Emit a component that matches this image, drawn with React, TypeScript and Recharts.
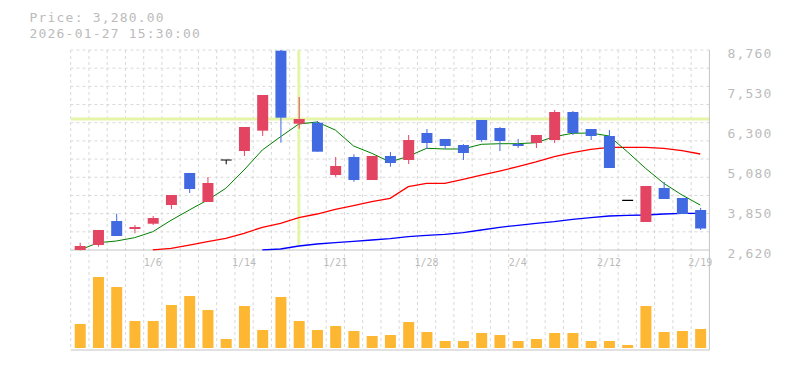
import React from 'react';
import {
  ComposedChart, Bar, Line, XAxis, YAxis, CartesianGrid, ReferenceLine,
} from 'recharts';

// ---- data ----
const dates = ['12/26','12/29','12/30','1/5','1/6','1/7','1/8','1/9','1/13','1/14','1/15','1/16','1/19','1/20','1/21','1/22','1/23','1/26','1/27','1/28','1/29','1/30','2/2','2/3','2/4','2/5','2/6','2/9','2/10','2/12','2/13','2/16','2/17','2/18','2/19'];
const opens  = [2620,2773,3510,3265,3427,4001,4984,4094,5383,5659,6283,8739,6497,6528,4922,5475,4769,5506,5383,6212,6028,5843,6611,6365,5874,5905,5997,6857,6335,6120,4146,3480,4523,4216,3848];
const highs  = [2844,3234,3734,3388,3664,4308,4984,4861,5383,6396,7378,8760,7317,6580,5475,5558,5506,5629,6150,6335,6028,5870,6611,6396,6028,6150,6918,6888,6335,6304,4150,4585,4708,4216,3909];
const lows   = [2620,2721,3050,3133,3388,3879,4370,4094,5251,5506,6120,5914,6344,5638,4870,4717,4769,5177,5260,5721,5721,5383,5936,5659,5751,5751,5905,6150,5997,5137,4142,3480,4186,3725,3234];
const closes = [2743,3234,3050,3326,3602,4308,4493,4677,5383,6396,7378,6682,6642,5638,5199,4769,5506,5291,5997,5905,5813,5598,5997,5966,5813,6150,6857,6212,6120,5137,4146,4585,4186,3725,3280];
const volumes = [240,710,610,270,270,430,520,380,90,420,180,510,270,180,220,170,120,130,260,160,70,70,150,130,70,90,150,150,70,70,30,420,160,170,190];
const ma5 = [2620,2844,2896,2998,3182,3532,3848,4155,4514,5076,5690,6098,6488,6550,6304,5813,5589,5322,5497,5742,5721,5721,5865,5883,5883,5914,6098,6203,6212,6120,5638,5128,4668,4308,4001];
const ma25 = [null,null,null,null,2625,2672,2773,2875,2979,3133,3317,3440,3612,3725,3869,3980,4103,4207,4563,4668,4668,4790,4922,5045,5177,5322,5484,5607,5711,5773,5773,5773,5742,5669,5567];
const ma75 = [null,null,null,null,null,null,null,null,null,null,2625,2651,2743,2804,2844,2887,2927,2967,3028,3071,3102,3151,3234,3317,3378,3440,3489,3562,3612,3664,3685,3695,3725,3747,3747];
const labelDates = ['1/6','1/14','1/21','1/28','2/4','2/12','2/19'];
const priceTicks = [2620, 3850, 5080, 6300, 7530, 8760];
const crossDate = '1/19';
const crossPrice = 6642;
const headerPrice = 'Price: 3,280.00';
const headerTime = '2026-01-27 15:30:00';

const PRICE_MIN = 2620;
const PRICE_MAX = 8760;
const GRID_DIVS = 11;

const data = dates.map((d, i) => ({
  date: d,
  open: opens[i], high: highs[i], low: lows[i], close: closes[i],
  range: [lows[i], highs[i]],
  vol: volumes[i],
  ma5: ma5[i], ma25: ma25[i], ma75: ma75[i],
}));
const gridPrices = Array.from({ length: GRID_DIVS }, (_, k) => PRICE_MIN + ((k + 1) * (PRICE_MAX - PRICE_MIN)) / GRID_DIVS);

const FONT = '"DejaVu Sans Mono", monospace';
const TEXT = '#bbbbbb';
const RED = '#e24462';
const BLUE = '#4169e1';
const GRID = '#d9d9d9';
const AXIS = '#c4c4c4';
const HILITE = '#e4f5a8';

const Candle = (props: any) => {
  const { x, y, width, height, payload } = props;
  if (x == null || y == null || !payload) return null;
  const { open, close, high, low } = payload;
  const top0 = Math.min(y, y + height);
  const h = Math.abs(height);
  const span = high - low;
  const yOf = (v: number) => (span > 0 ? top0 + ((high - v) / span) * h : top0);
  const color = close > open ? RED : close < open ? BLUE : '#000000';
  const cx = x + width / 2;
  const bTop = yOf(Math.max(open, close));
  const bBot = yOf(Math.min(open, close));
  return (
    <g>
      {h > 0.5 && <line x1={cx} x2={cx} y1={top0} y2={top0 + h} stroke={color} strokeWidth={1} />}
      {bBot - bTop < 1.2 ? (
        <line x1={x} x2={x + width} y1={bTop} y2={bTop} stroke={color} strokeWidth={1.2} />
      ) : (
        <rect x={x} y={bTop} width={width} height={bBot - bTop} fill={color} />
      )}
    </g>
  );
};

const PriceTick = (props: any) => {
  const { x, y, payload } = props;
  return (
    <text x={x + 10} y={y + 8} textAnchor="start" fontSize={13} letterSpacing={1.2} fontFamily={FONT} fill={TEXT}>
      {payload.value.toLocaleString('en-US')}
    </text>
  );
};

const DateTick = (props: any) => {
  const { x, payload } = props;
  return (
    <text x={x} y={265.5} textAnchor="middle" fontSize={10} fontFamily={FONT} fill={TEXT}>
      {payload.value}
    </text>
  );
};

export default function App() {
  return (
    <div style={{ position: 'absolute', left: 0, top: 0, width: 785, height: 370, background: '#fff' }}>
      <ComposedChart
        width={785}
        height={370}
        data={data}
        margin={{ top: 50, right: 0, bottom: 0, left: 70.7 }}
      >
        <CartesianGrid
          xAxisId="main"
          yAxisId="p"
          horizontal={false}
          stroke={GRID}
          strokeDasharray="3 3"
          verticalCoordinatesGenerator={({ offset }: any) =>
            Array.from({ length: dates.length }, (_, k) => offset.left + (k * offset.width) / dates.length)
          }
        />
        <XAxis
          xAxisId="main"
          dataKey="date"
          height={20}
          ticks={labelDates}
          interval={0}
          tickLine={false}
          axisLine={{ stroke: AXIS }}
          tick={<DateTick />}
        />
        <XAxis xAxisId="vol" dataKey="date" hide />
        <YAxis
          yAxisId="p"
          orientation="right"
          width={75.6}
          domain={[-450, PRICE_MAX]}
          allowDataOverflow
          ticks={priceTicks}
          interval={0}
          tickLine={false}
          axisLine={{ stroke: AXIS }}
          tick={<PriceTick />}
        />
        <YAxis yAxisId="v" hide domain={[-20, 2980]} allowDataOverflow />
        {gridPrices.map((g) => (
          <ReferenceLine key={g} xAxisId="main" yAxisId="p" y={g} stroke={GRID} strokeDasharray="3 3" />
        ))}
        <ReferenceLine xAxisId="main" yAxisId="p" y={PRICE_MIN} stroke={AXIS} />
        <ReferenceLine xAxisId="main" yAxisId="p" y={crossPrice} stroke={HILITE} strokeWidth={3} />
        <ReferenceLine
          xAxisId="main"
          yAxisId="p"
          segment={[{ x: crossDate, y: PRICE_MAX }, { x: crossDate, y: 2780 }]}
          stroke={HILITE}
          strokeWidth={3}
        />
        <Bar xAxisId="vol" yAxisId="v" dataKey="vol" fill="#fdb733" barSize={11} isAnimationActive={false} />
        <Line xAxisId="main" yAxisId="p" type="linear" dataKey="ma75" stroke="#0000ff" strokeWidth={1.3} dot={false} isAnimationActive={false} />
        <Line xAxisId="main" yAxisId="p" type="linear" dataKey="ma25" stroke="#ff0000" strokeWidth={1.3} dot={false} isAnimationActive={false} />
        <Line xAxisId="main" yAxisId="p" type="linear" dataKey="ma5" stroke="#008000" strokeWidth={1} dot={false} isAnimationActive={false} />
        <Bar xAxisId="main" yAxisId="p" dataKey="range" barSize={11} shape={<Candle />} isAnimationActive={false} zIndex={450} />
      </ComposedChart>
      <svg width={785} height={50} style={{ position: 'absolute', left: 0, top: 0, pointerEvents: 'none' }}>
        <text x={29.5} y={22.3} fontSize={13} letterSpacing={1.2} fontFamily={FONT} fill={TEXT}>{headerPrice}</text>
        <text x={29.5} y={37.8} fontSize={13} letterSpacing={1.2} fontFamily={FONT} fill={TEXT}>{headerTime}</text>
      </svg>
    </div>
  );
}
